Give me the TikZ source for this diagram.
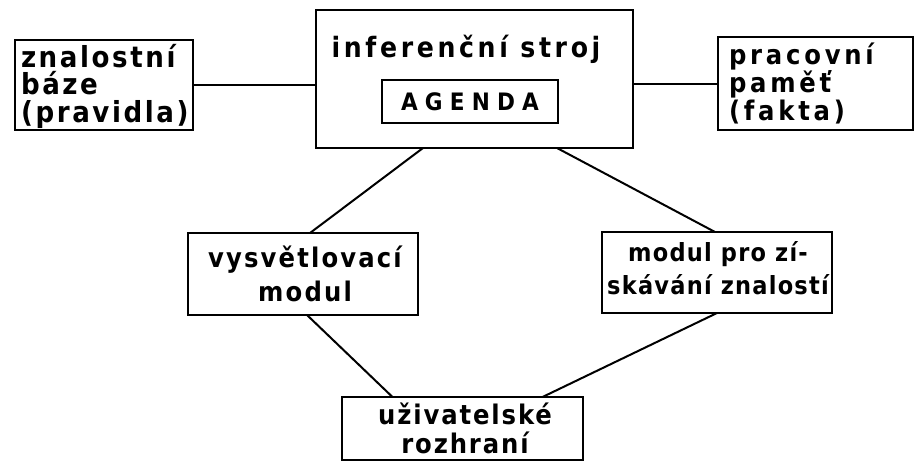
\documentclass[tikz,border=0pt]{standalone}
\usepackage{fontspec}
\setmainfont{DejaVu Sans}
\newfontfamily\handK{DejaVu Sans Condensed Bold}[LetterSpace=9]
\newfontfamily\handA{DejaVu Sans Condensed Bold}[LetterSpace=14]
\newfontfamily\handB{DejaVu Sans Condensed Bold}[LetterSpace=13]
\newfontfamily\handC{DejaVu Sans Condensed Bold}[LetterSpace=8]
\newfontfamily\handD{DejaVu Sans Condensed Bold}[LetterSpace=5]
\newfontfamily\handE{DejaVu Sans Condensed Bold}[LetterSpace=7]
\newfontfamily\handW{DejaVu Sans Condensed Bold}[LetterSpace=30]
\begin{document}
\begin{tikzpicture}[x=1pt,y=1pt,
  box/.style={draw, line width=2.2pt, inner sep=0pt, outer sep=0pt, anchor=north west},
  txt/.style={inner sep=0pt, outer sep=0pt},
  link/.style={line width=2pt}]
\useasboundingbox[fill=white] (0,0) rectangle (915,-461);
% boxes
\node[box, minimum width=178pt, minimum height=90pt] (kb) at (15,-40) {};
\node[box, minimum width=317pt, minimum height=138pt] (inf) at (316,-10) {};
\node[box, minimum width=176pt, minimum height=43pt] (ag) at (382,-80) {};
\node[box, minimum width=195pt, minimum height=93pt] (pm) at (718,-37) {};
\node[box, minimum width=230pt, minimum height=82pt] (vys) at (188,-233) {};
\node[box, minimum width=230pt, minimum height=81pt] (mod) at (602,-232) {};
\node[box, minimum width=241pt, minimum height=63pt] (usr) at (342,-397) {};
% texts
\node[txt, anchor=west, align=left, font=\handK\fontsize{29}{27.5}\selectfont] (kbt) at (21,-86) {znalostní\\báze\\(pravidla)};
\node[txt, font=\handB\fontsize{28}{28}\selectfont] (inft) at (466,-49) {inferenční stroj};
\node[txt, font=\handW\fontsize{24}{28}\selectfont] (agt) at (ag.center) {AGENDA};
\node[txt, anchor=west, align=left, font=\handA\fontsize{27}{28}\selectfont] (pmt) at (729,-83) {pracovní\\paměť\\(fakta)};
\node[txt, align=center, font=\handC\fontsize{27}{34}\selectfont] (vyst) at (305,-274) {vysvětlovací\\modul};
\node[txt, align=center, font=\handD\fontsize{25}{33}\selectfont] (modt) at (718,-268) {modul pro zí-\\skávání znalostí};
\node[txt, align=center, font=\handE\fontsize{27}{29}\selectfont] (usrt) at (465,-428) {uživatelské\\rozhraní};
% connectors
\draw[link] (kb.east) -- (kb.east -| inf.west);
\draw[link] (pm.west -| inf.east) -- (pm.west);
\draw[link] ([xshift=-51.5pt]inf.south) -- ([xshift=7pt]vys.north);
\draw[link] ([xshift=82.5pt]inf.south) -- ([xshift=-2pt]mod.north);
\draw[link] ([xshift=4pt]vys.south) -- ([xshift=-70pt]usr.north);
\draw[link] (mod.south) -- ([xshift=80pt]usr.north);
\end{tikzpicture}
\end{document}
